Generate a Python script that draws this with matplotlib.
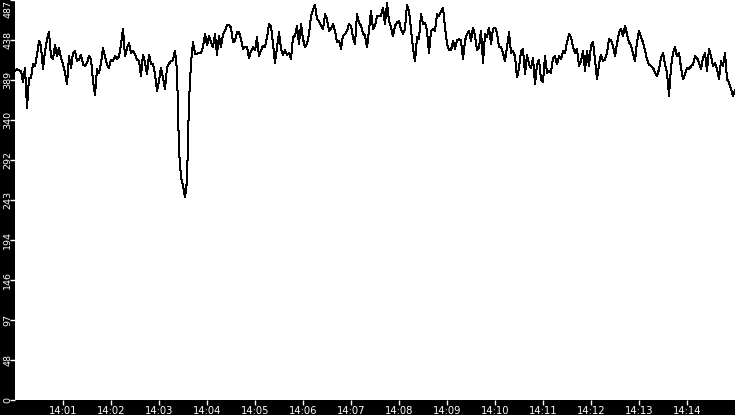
import numpy as np
import matplotlib
matplotlib.use("Agg")
import matplotlib.pyplot as plt

# readings every 2.5 s, 14:00:00 - 14:15:00, one list per 2.5 minutes
seg1 = [401, 403, 402, 401, 387, 405, 356, 393, 393, 409, 407, 421, 438, 431, 403,
        425, 440, 448, 419, 415, 433, 419, 429, 417, 409, 399, 385, 419, 405, 423,
        425, 413, 415, 421, 409, 407, 411, 419, 415, 389, 372, 403, 399, 411, 429,
        419, 409, 405, 415, 413, 419, 415, 419, 433, 452, 419, 429, 435, 423, 425]
seg2 = [421, 415, 413, 395, 421, 411, 397, 421, 409, 409, 397, 377, 389, 405, 393,
        379, 405, 410, 413, 414, 426, 401, 304, 271, 261, 247, 267, 365, 411, 436,
        422, 422, 423, 423, 430, 446, 432, 444, 436, 430, 446, 421, 444, 430, 446,
        450, 457, 457, 454, 436, 438, 448, 448, 440, 428, 430, 430, 417, 425, 430]
seg3 = [426, 442, 419, 426, 432, 430, 442, 458, 456, 434, 411, 430, 448, 428, 421,
        426, 421, 423, 415, 442, 444, 456, 434, 458, 440, 430, 434, 446, 468, 476,
        482, 464, 462, 456, 452, 470, 464, 450, 452, 458, 450, 436, 438, 428, 444,
        446, 450, 458, 456, 442, 434, 470, 460, 456, 447, 444, 430, 450, 474, 452]
seg4 = [456, 468, 468, 468, 478, 458, 484, 462, 454, 443, 456, 460, 462, 452, 446,
        452, 482, 474, 452, 428, 413, 442, 440, 470, 458, 460, 450, 423, 450, 452,
        450, 470, 468, 474, 478, 454, 434, 426, 426, 438, 428, 438, 440, 438, 415,
        438, 446, 450, 438, 454, 444, 426, 430, 450, 411, 446, 442, 454, 434, 452]
seg5 = [454, 448, 430, 430, 423, 413, 430, 448, 423, 425, 419, 393, 405, 425, 428,
        397, 421, 409, 405, 417, 385, 409, 415, 391, 387, 419, 399, 401, 399, 417,
        419, 409, 419, 415, 425, 423, 436, 446, 442, 430, 423, 428, 407, 413, 426,
        401, 426, 407, 432, 436, 415, 391, 409, 421, 413, 415, 423, 440, 438, 432]
seg6 = [419, 434, 448, 452, 444, 456, 446, 436, 432, 423, 413, 436, 450, 442, 436,
        426, 415, 409, 407, 405, 399, 395, 403, 417, 423, 409, 399, 371, 405, 423,
        430, 419, 423, 405, 391, 397, 405, 403, 407, 409, 419, 417, 411, 403, 417,
        423, 401, 428, 419, 407, 411, 403, 391, 413, 407, 423, 391, 387, 379, 371,
        378]

xtick_labels = ["14:01", "14:02", "14:03", "14:04", "14:05", "14:06", "14:07",
                "14:08", "14:09", "14:10", "14:11", "14:12", "14:13", "14:14"]
ytick_labels = ["0", "48", "97", "146", "194", "243", "292", "340", "389", "438", "487"]

values = seg1 + seg2 + seg3 + seg4 + seg5 + seg6
secs = np.arange(len(values)) * 2.5

fig = plt.figure(figsize=(7.35, 4.15), dpi=100, facecolor="black")
ax = fig.add_axes([15 / 735, 15 / 415, 720 / 735, 400 / 415])
ax.set_facecolor("white")

ax.plot(secs, values, color="black", lw=0.72, antialiased=False)

ax.set_xlim(0, 900)
ax.set_ylim(0, 487.5)
ax.set_xticks(np.arange(1, len(xtick_labels) + 1) * 60)
ax.set_xticklabels(xtick_labels)
ax.set_yticks(np.linspace(0, 487, len(ytick_labels)))
ax.set_yticklabels(ytick_labels, rotation=90, va="center")
ax.get_yticklabels()[-1].set_va("top")

ax.tick_params(colors="white", length=3.6, width=1, labelsize=6.8)
ax.tick_params(axis="x", pad=0.8, labelsize=7.2)
ax.tick_params(axis="y", pad=-1.5)
for s in ax.spines.values():
    s.set_visible(False)

fig.savefig("out.png", dpi=100, facecolor="black")
